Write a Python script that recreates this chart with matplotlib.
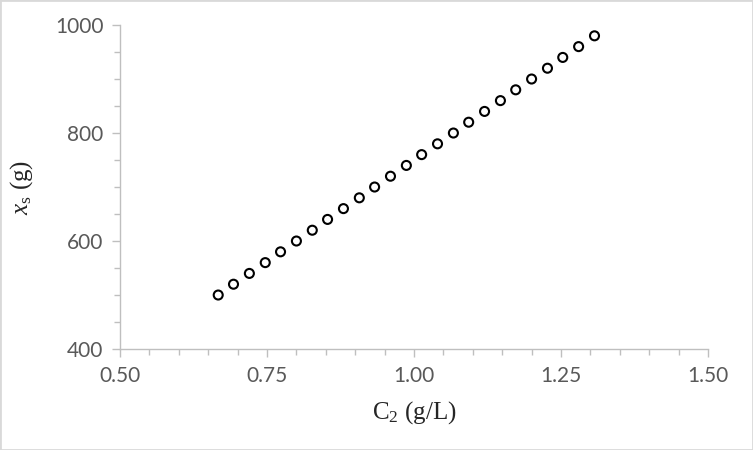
import numpy as np
import matplotlib.pyplot as plt
from matplotlib.ticker import MultipleLocator, FormatStrFormatter
from matplotlib.patches import Rectangle

# values
c2 = [0.667, 0.693, 0.720, 0.747, 0.773, 0.800, 0.827, 0.853, 0.880, 0.907,
      0.933, 0.960, 0.987, 1.013, 1.040, 1.067, 1.093, 1.120, 1.147, 1.173,
      1.200, 1.227, 1.253, 1.280, 1.307]
xs = [500, 520, 540, 560, 580, 600, 620, 640, 660, 680,
      700, 720, 740, 760, 780, 800, 820, 840, 860, 880,
      900, 920, 940, 960, 980]
xticks = [0.50, 0.75, 1.00, 1.25, 1.50]
yticks = [400, 600, 800, 1000]

axis_grey = '#bfbfbf'
text_grey = '#595959'

plt.rcParams['mathtext.fontset'] = 'custom'
plt.rcParams['mathtext.rm'] = 'Liberation Serif'
plt.rcParams['mathtext.it'] = 'Liberation Serif:italic'

fig = plt.figure(figsize=(7.53, 4.5), dpi=100, facecolor='w')
ax = fig.add_axes([0.1594, 0.2244, 0.7808, 0.72])

ax.scatter(c2, xs, s=42, facecolors='none', edgecolors='black', linewidths=1.5, zorder=3)

ax.set_xlim(xticks[0], xticks[-1])
ax.set_ylim(yticks[0], yticks[-1])
ax.set_xticks(xticks)
ax.set_yticks(yticks)
ax.xaxis.set_minor_locator(MultipleLocator(0.05))
ax.yaxis.set_minor_locator(MultipleLocator(50))
ax.xaxis.set_major_formatter(FormatStrFormatter('%.2f'))

for spine in ('top', 'right'):
    ax.spines[spine].set_visible(False)
for spine in ('bottom', 'left'):
    ax.spines[spine].set_color(axis_grey)
    ax.spines[spine].set_linewidth(1.0)

ax.tick_params(which='both', color=axis_grey, width=1.0, direction='out')
ax.tick_params(which='major', length=6, labelsize=15, labelcolor=text_grey, pad=6)
ax.tick_params(which='minor', length=4)
for lab in ax.get_xticklabels() + ax.get_yticklabels():
    lab.set_family('Lato')

ax.set_xlabel(r'C$_2$ (g/L)', family='Liberation Serif', fontsize=18, color='#262626', labelpad=10)
ax.set_ylabel(r'$x_\mathrm{s}$ (g)', family='Liberation Serif', fontsize=18, color='#262626', labelpad=14)

fig.patches.append(Rectangle((0, 0), 1, 1, transform=fig.transFigure, fill=False,
                             edgecolor='#d9d9d9', linewidth=2, zorder=10))

fig.savefig('out.png', dpi=100, facecolor='w')
